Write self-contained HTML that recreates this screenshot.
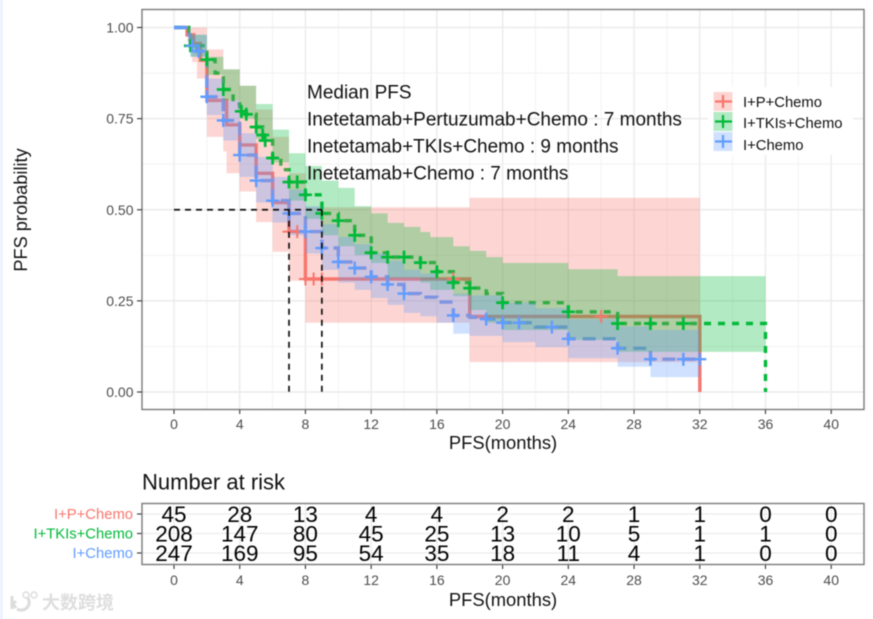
<!DOCTYPE html>
<html>
<head>
<meta charset="utf-8">
<style>
html,body{margin:0;padding:0;background:#fff;width:873px;height:619px;overflow:hidden}
svg{display:block;font-family:"Liberation Sans","Noto Sans CJK SC",sans-serif}
</style>
</head>
<body>
<svg id="chart" width="873" height="619" viewBox="0 0 873 619"></svg>
<script>
var xTicks = [0,4,8,12,16,20,24,28,32,36,40];
var yTicks = [0,0.25,0.5,0.75,1];
var yTickLabels = ["0.00","0.25","0.50","0.75","1.00"];
var medianTimes = [7,9];
var medianLevel = 0.5;

var redTimes = [0,0.8,1.2,1.6,2,3.2,4,5,6,7,8,18,32,32];
var redSurv = [1,0.98,0.956,0.91,0.8,0.733,0.678,0.6,0.52,0.44,0.31,0.207,0.207,0];
var redBandTimes = [0,0.8,1.1,1.4,2,3,3.2,4,5,6,7,8,18,32];
var redUpper = [1,1,1,1,0.94,0.885,0.885,0.84,0.775,0.7,0.6,0.507,0.533,0.533];
var redLower = [1,0.96,0.905,0.86,0.7,0.66,0.6,0.55,0.466,0.385,0.305,0.19,0.082,0.082];
var redCensors = [7,7.5,8,8.5,9,17,26];

var greenTimes = [0,0.9,1,2,2.5,3,3.6,4,4.4,5,5.4,5.5,6,6.5,7,8,9,10,11,12,13,15,16,17,18,19,20,24,27,36,36];
var greenSurv = [1,0.98,0.95,0.912,0.875,0.83,0.79,0.77,0.762,0.727,0.705,0.69,0.642,0.61,0.576,0.541,0.49,0.47,0.43,0.382,0.37,0.355,0.33,0.3,0.285,0.27,0.245,0.22,0.188,0.188,0];
var greenBandTimes = [0,0.9,1,2,3,4,5,6,7,8,9,10,11,12,13,14,15,15.6,17,18,19,20,24,27,36];
var greenUpper = [1,1,0.98,0.92,0.885,0.84,0.79,0.72,0.655,0.62,0.58,0.56,0.51,0.49,0.464,0.453,0.439,0.425,0.4,0.387,0.37,0.354,0.337,0.318,0.318];
var greenLower = [1,0.96,0.92,0.87,0.8,0.75,0.695,0.63,0.525,0.475,0.43,0.4,0.375,0.354,0.313,0.313,0.3,0.28,0.263,0.225,0.19,0.17,0.143,0.11,0.11];
var greenCensors = [1,2,3,4.1,4.4,5,5.4,5.55,6,7,7.5,8,9,10,11,12,13,14,15,16,17,18,20,24,27,29,31];

var blueTimes = [0,0.9,1,1.4,2,3,4,5,6,7,8,9,10,11,12,13,14,15,16,17,18,19,20,22,24,27,29,32];
var blueSurv = [1,0.98,0.95,0.935,0.81,0.745,0.65,0.58,0.525,0.49,0.44,0.395,0.357,0.34,0.316,0.295,0.27,0.26,0.247,0.21,0.205,0.2,0.19,0.178,0.146,0.12,0.09,0.09];
var blueBandTimes = [0,0.9,1,2,3,4,5,6,7,8,9,10,11,12,13,14,15,16,17,18,20,22,24,27,29,32];
var blueUpper = [1,1,0.98,0.86,0.8,0.71,0.645,0.59,0.555,0.51,0.46,0.425,0.405,0.38,0.36,0.335,0.325,0.31,0.27,0.265,0.245,0.23,0.2,0.18,0.17,0.17];
var blueLower = [1,0.97,0.92,0.76,0.69,0.59,0.52,0.465,0.43,0.38,0.335,0.3,0.28,0.258,0.239,0.217,0.208,0.19,0.16,0.154,0.137,0.123,0.093,0.069,0.041,0.041];
var blueCensors = [1.1,1.5,2,3,4,5,6,7,8,9,10,11,12,13,14,17,19,20,21,23,24,27,29,31,32];

var riskGroups = ["I+P+Chemo","I+TKIs+Chemo","I+Chemo"];
var riskRed = [45,28,13,4,4,2,2,1,1,0,0];
var riskGreen = [208,147,80,45,25,13,10,5,1,1,0];
var riskBlue = [247,169,95,54,35,18,11,4,1,0,0];

var RED = "#F8766D", GREEN = "#00BA38", BLUE = "#619CFF";
var NS = "http://www.w3.org/2000/svg";
var svg = document.getElementById("chart");

function X(t){ return 174 + t * 16.43; }
function Y(s){ return 392 - s * 364.5; }
function RY(i){ return 514 + i * 19.5; }

function make(tag, attrs, text){
  var el = document.createElementNS(NS, tag);
  for (var k in attrs) el.setAttribute(k, attrs[k]);
  if (text !== undefined) el.textContent = text;
  return el;
}
function stepPath(ts, ss){
  var d = "M" + X(ts[0]).toFixed(1) + " " + Y(ss[0]).toFixed(1);
  for (var i = 1; i < ts.length; i++){
    d += "H" + X(ts[i]).toFixed(1) + "V" + Y(ss[i]).toFixed(1);
  }
  return d;
}
function bandPath(ts, up, lo){
  var d = "M" + X(ts[0]).toFixed(1) + " " + Y(up[0]).toFixed(1);
  var i;
  for (i = 1; i < ts.length; i++) d += "H" + X(ts[i]).toFixed(1) + "V" + Y(up[i]).toFixed(1);
  d += "V" + Y(lo[ts.length-1]).toFixed(1);
  for (i = ts.length - 1; i > 0; i--) d += "H" + X(ts[i]).toFixed(1) + "V" + Y(lo[i-1]).toFixed(1);
  d += "H" + X(ts[0]).toFixed(1) + "Z";
  return d;
}
function survAt(ts, ss, t){
  var v = ss[0];
  for (var i = 0; i < ts.length; i++){
    if (ts[i] <= t && ss[i] > 0) v = ss[i];
  }
  return v;
}

var edge = make("rect", {x:0,y:0,width:3,height:619,fill:"#eef3fd"});


svg.appendChild(edge);

var root = make("g", {style:"filter:blur(0.55px)"});


svg.appendChild(root);

/* main panel */
var panel = make("rect", {x:142.5,y:9.5,width:721,height:400,fill:"#fff"});


root.appendChild(panel);

var gridG = make("g", {});


root.appendChild(gridG);
xTicks.forEach(function(t, i){
  gridG.appendChild(make("line", {x1:X(t),x2:X(t),y1:9.5,y2:409.5,stroke:"#ebebeb","stroke-width":1.4}));
  if (i < xTicks.length - 1){
    var mt = (t + xTicks[i+1]) / 2;
    gridG.appendChild(make("line", {x1:X(mt),x2:X(mt),y1:9.5,y2:409.5,stroke:"#f0f0f0","stroke-width":0.8}));
  }
});
yTicks.forEach(function(s, i){
  gridG.appendChild(make("line", {x1:142.5,x2:863.5,y1:Y(s),y2:Y(s),stroke:"#ebebeb","stroke-width":1.4}));
  if (i < yTicks.length - 1){
    var ms = (s + yTicks[i+1]) / 2;
    gridG.appendChild(make("line", {x1:142.5,x2:863.5,y1:Y(ms),y2:Y(ms),stroke:"#f0f0f0","stroke-width":0.8}));
  }
});

/* lines below ribbons */
var redLine = make("path", {d:stepPath(redTimes, redSurv),fill:"none",stroke:RED,"stroke-width":3.4});


root.appendChild(redLine);
var greenLine = make("path", {d:stepPath(greenTimes, greenSurv),fill:"none",stroke:GREEN,"stroke-width":3.4,"stroke-dasharray":"7 7"});


root.appendChild(greenLine);
var blueLine = make("path", {d:stepPath(blueTimes, blueSurv),fill:"none",stroke:BLUE,"stroke-width":3.4,"stroke-dasharray":"13 7"});


root.appendChild(blueLine);

/* ribbons */
var redBand = make("path", {d:bandPath(redBandTimes, redUpper, redLower),fill:RED,"fill-opacity":0.3});


root.appendChild(redBand);
var greenBand = make("path", {d:bandPath(greenBandTimes, greenUpper, greenLower),fill:GREEN,"fill-opacity":0.3});


root.appendChild(greenBand);
var blueBand = make("path", {d:bandPath(blueBandTimes, blueUpper, blueLower),fill:BLUE,"fill-opacity":0.3});


root.appendChild(blueBand);

/* censor marks */
function drawCensors(list, ts, ss, color, width, name){
  var g = make("g", {stroke:color,"stroke-width":width,fill:"none"});
  
  
  list.forEach(function(t){
    var cx = X(t), cy = Y(survAt(ts, ss, t));
    g.appendChild(make("path", {d:"M"+(cx-6.5)+" "+cy+"H"+(cx+6.5)+"M"+cx+" "+(cy-6.5)+"V"+(cy+6.5)}));
  });
  root.appendChild(g);
}
drawCensors(redCensors, redTimes, redSurv, RED, 2, "censors-i-p-chemo");
drawCensors(greenCensors, greenTimes, greenSurv, GREEN, 2.7, "censors-i-tkis-chemo");
drawCensors(blueCensors, blueTimes, blueSurv, BLUE, 2.4, "censors-i-chemo");

/* median lines */
var medG = make("g", {stroke:"#111","stroke-width":1.7,"stroke-dasharray":"6 5",fill:"none"});


root.appendChild(medG);
medG.appendChild(make("line", {x1:X(0),x2:X(medianTimes[medianTimes.length-1]),y1:Y(medianLevel),y2:Y(medianLevel)}));
medianTimes.forEach(function(t){
  medG.appendChild(make("line", {x1:X(t),x2:X(t),y1:Y(medianLevel),y2:Y(0)}));
});

/* legend */
var legend = make("g", {});


root.appendChild(legend);
legend.appendChild(make("rect", {x:708,y:87,width:145,height:68,fill:"#fff"}));
[[RED,92,102],[GREEN,112,123],[BLUE,132,145]].forEach(function(r, i){
  var e = make("g", {});
  
  
  e.appendChild(make("rect", {x:713.5,y:r[1],width:19,height:19,fill:r[0],"fill-opacity":0.3}));
  var cy = r[1] + 9.5;
  e.appendChild(make("path", {d:"M715 "+cy+"H732M723 "+(cy-6.5)+"V"+(cy+6.5),stroke:r[0],"stroke-width":2.2,fill:"none"}));
  e.appendChild(make("text", {x:743,y:r[2]+5,"font-size":14.8,fill:"#111"}, riskGroups[i]));
  legend.appendChild(e);
});

/* annotation */
var noteLines = ["Median PFS","Inetetamab+Pertuzumab+Chemo : 7 months","Inetetamab+TKIs+Chemo : 9 months","Inetetamab+Chemo : 7 months"];
noteLines.forEach(function(s, i){
  var n = make("text", {x:307,y:98.5+i*27,"font-size":19,fill:"#111"}, s);
  
  
  root.appendChild(n);
});

/* main panel border */
var border = make("rect", {x:142,y:9.5,width:722,height:400,fill:"none",stroke:"#7a7a7a","stroke-width":1.4});


root.appendChild(border);

/* main axes */
var axG = make("g", {});


root.appendChild(axG);
xTicks.forEach(function(t){
  axG.appendChild(make("line", {x1:X(t),x2:X(t),y1:410,y2:414,stroke:"#333","stroke-width":1.1}));
  var l = make("text", {x:X(t),y:429,"font-size":14,fill:"#4d4d4d","text-anchor":"middle"}, t);
  
  
  axG.appendChild(l);
});
yTicks.forEach(function(s, i){
  axG.appendChild(make("line", {x1:137,x2:142,y1:Y(s),y2:Y(s),stroke:"#333","stroke-width":1.1}));
  var l = make("text", {x:133.5,y:Y(s)+5,"font-size":14,fill:"#4d4d4d","text-anchor":"end"}, yTickLabels[i]);
  
  
  axG.appendChild(l);
});
var xTitle = make("text", {x:503,y:449,"font-size":18.4,fill:"#111","text-anchor":"middle"}, "PFS(months)");


root.appendChild(xTitle);
var yTitle = make("text", {x:0,y:0,"font-size":18.2,fill:"#111","text-anchor":"middle",transform:"translate(27 210) rotate(-90)"}, "PFS probability");


root.appendChild(yTitle);

/* risk table */
var rtTitle = make("text", {x:142,y:489.5,"font-size":22,fill:"#111"}, "Number at risk");


root.appendChild(rtTitle);

var rt = make("g", {});


root.appendChild(rt);
xTicks.forEach(function(t){
  rt.appendChild(make("line", {x1:X(t),x2:X(t),y1:503.5,y2:564.5,stroke:"#ebebeb","stroke-width":1.2}));
  rt.appendChild(make("line", {x1:X(t),x2:X(t),y1:565,y2:569,stroke:"#333","stroke-width":1.1}));
  var l = make("text", {x:X(t),y:585,"font-size":14,fill:"#4d4d4d","text-anchor":"middle"}, t);
  
  
  rt.appendChild(l);
});
[riskRed, riskGreen, riskBlue].forEach(function(vals, i){
  var color = [RED, GREEN, BLUE][i];
  rt.appendChild(make("line", {x1:142.5,x2:863.5,y1:RY(i),y2:RY(i),stroke:"#ebebeb","stroke-width":1.2}));
  rt.appendChild(make("line", {x1:137,x2:142,y1:RY(i),y2:RY(i),stroke:"#333","stroke-width":1.1}));
  var g = make("text", {x:133,y:RY(i)+5,"font-size":14.8,fill:color,"text-anchor":"end"}, riskGroups[i]);
  
  
  rt.appendChild(g);
  vals.forEach(function(v, j){
    var c = make("text", {x:X(xTicks[j]),y:RY(i)+8,"font-size":22.5,fill:"#000","text-anchor":"middle"}, v);
    
    
    rt.appendChild(c);
  });
});
rt.appendChild(make("rect", {x:142,y:503.5,width:722,height:61,fill:"none",stroke:"#7a7a7a","stroke-width":1.4}));
var rtX = make("text", {x:503,y:606,"font-size":18.4,fill:"#111","text-anchor":"middle"}, "PFS(months)");


root.appendChild(rtX);

/* watermark */
var wm = make("g", {});


root.appendChild(wm);
wm.appendChild(make("path", {d:"M12 596V609M16 601L13 604L16 608M28 598A8 8 0 0 1 17 609",fill:"none",stroke:"#dcdcdc","stroke-width":3}));
wm.appendChild(make("circle", {cx:26,cy:595,r:3,fill:"none",stroke:"#dcdcdc","stroke-width":1.4}));
wm.appendChild(make("circle", {cx:34,cy:595,r:3,fill:"none",stroke:"#dcdcdc","stroke-width":1.4}));
var wmText = make("text", {x:42,y:609,"font-size":18,"font-weight":"bold",fill:"#dedede"}, "大数跨境");


wm.appendChild(wmText);
</script>
</body>
</html>
